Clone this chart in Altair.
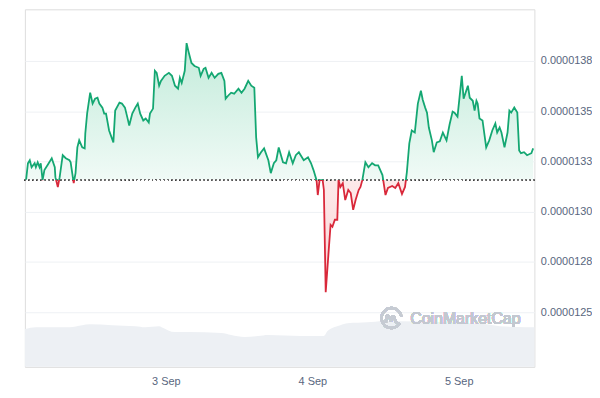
import altair as alt
import pandas as pd

# ---- data (hours since 2 Sep 00:00, price in USD) ----
hours = [1.1, 1.4, 1.7, 2.0, 2.5, 2.7, 3.0, 3.3, 3.5, 3.8, 4.1, 4.6, 5.3, 5.8, 5.9, 6.3, 6.6, 7.1, 7.6, 8.2,
         8.4, 8.9, 9.2, 9.5, 9.8, 10.3, 10.7, 10.8, 11.1, 11.6, 12.0, 12.4, 12.8, 13.1, 13.6, 13.9, 14.2, 14.7,
         15.4, 15.7, 16.4, 16.8, 17.3, 17.7, 18.0, 18.5, 19.0, 19.4, 19.8, 20.3, 20.7, 21.2, 21.4, 21.9, 22.2,
         22.5, 22.9, 23.2, 23.8, 24.5, 25.0, 25.5, 26.0, 26.3, 26.6, 27.1, 27.4, 27.7, 28.2, 28.7, 29.4, 29.7,
         30.2, 30.5, 31.0, 31.5, 32.0, 32.6, 33.1, 33.6, 33.8, 34.2, 34.7, 35.2, 35.9, 36.4, 36.9, 37.5, 38.0,
         38.5, 38.8, 39.1, 39.6, 40.1, 40.8, 41.2, 41.7, 42.1, 42.5, 43.2, 43.7, 44.2, 44.8, 45.3, 45.8, 46.1,
         46.6, 47.3, 47.8, 48.2, 48.7, 48.9, 49.2, 49.7, 49.9, 50.2, 50.7, 51.0, 51.3, 51.7, 52.1, 52.3, 52.6,
         53.0, 53.4, 53.9, 54.3, 54.7, 55.1, 55.6, 55.9, 56.2, 56.7, 57.2, 57.8, 58.3, 58.8, 59.5, 60.0, 60.4,
         61.1, 61.6, 62.1, 62.7, 63.2, 63.5, 63.9, 64.3, 64.8, 65.3, 65.8, 66.1, 66.5, 66.8, 67.1, 67.6, 67.9,
         68.4, 68.9, 69.4, 70.0, 70.5, 71.0, 71.3, 71.8, 72.5, 72.8, 73.5, 73.8, 74.3, 74.6, 74.9, 75.1, 75.4,
         75.9, 76.5, 77.0, 77.5, 78.0, 78.3, 78.7, 79.0, 79.5, 80.0, 80.3, 80.6, 81.1, 81.6, 81.9, 82.2, 82.7,
         83.2, 83.9, 84.2]

price = [13.160e-6, 13.241e-6, 13.256e-6, 13.221e-6, 13.241e-6, 13.221e-6, 13.246e-6, 13.221e-6, 13.241e-6,
         13.157e-6, 13.207e-6, 13.231e-6, 13.266e-6, 13.221e-6, 13.172e-6, 13.123e-6, 13.172e-6, 13.281e-6,
         13.266e-6, 13.256e-6, 13.246e-6, 13.142e-6, 13.192e-6, 13.320e-6, 13.355e-6, 13.320e-6, 13.315e-6,
         13.389e-6, 13.488e-6, 13.592e-6, 13.538e-6, 13.562e-6, 13.567e-6, 13.538e-6, 13.518e-6, 13.488e-6,
         13.488e-6, 13.404e-6, 13.345e-6, 13.503e-6, 13.543e-6, 13.538e-6, 13.518e-6, 13.468e-6, 13.429e-6,
         13.488e-6, 13.518e-6, 13.538e-6, 13.488e-6, 13.454e-6, 13.464e-6, 13.444e-6, 13.488e-6, 13.513e-6,
         13.701e-6, 13.691e-6, 13.627e-6, 13.651e-6, 13.676e-6, 13.691e-6, 13.676e-6, 13.627e-6, 13.612e-6,
         13.666e-6, 13.641e-6, 13.701e-6, 13.839e-6, 13.799e-6, 13.740e-6, 13.725e-6, 13.716e-6, 13.676e-6,
         13.711e-6, 13.716e-6, 13.666e-6, 13.691e-6, 13.666e-6, 13.686e-6, 13.691e-6, 13.651e-6, 13.562e-6,
         13.577e-6, 13.592e-6, 13.587e-6, 13.612e-6, 13.592e-6, 13.612e-6, 13.651e-6, 13.627e-6, 13.617e-6,
         13.370e-6, 13.271e-6, 13.296e-6, 13.315e-6, 13.256e-6, 13.192e-6, 13.241e-6, 13.256e-6, 13.320e-6,
         13.246e-6, 13.241e-6, 13.296e-6, 13.241e-6, 13.281e-6, 13.296e-6, 13.281e-6, 13.256e-6, 13.271e-6,
         13.241e-6, 13.207e-6, 13.157e-6, 13.083e-6, 13.157e-6, 13.157e-6, 13.108e-6, 12.599e-6, 12.811e-6,
         12.935e-6, 12.925e-6, 12.960e-6, 12.960e-6, 13.157e-6, 13.123e-6, 13.142e-6, 13.058e-6, 13.108e-6,
         13.093e-6, 13.009e-6, 13.058e-6, 13.108e-6, 13.123e-6, 13.157e-6, 13.246e-6, 13.221e-6, 13.241e-6,
         13.231e-6, 13.231e-6, 13.182e-6, 13.083e-6, 13.118e-6, 13.128e-6, 13.118e-6, 13.142e-6, 13.088e-6,
         13.123e-6, 13.197e-6, 13.340e-6, 13.404e-6, 13.394e-6, 13.538e-6, 13.602e-6, 13.557e-6, 13.518e-6,
         13.493e-6, 13.419e-6, 13.355e-6, 13.296e-6, 13.345e-6, 13.350e-6, 13.394e-6, 13.355e-6, 13.434e-6,
         13.498e-6, 13.493e-6, 13.473e-6, 13.676e-6, 13.562e-6, 13.627e-6, 13.567e-6, 13.552e-6, 13.503e-6,
         13.552e-6, 13.538e-6, 13.464e-6, 13.454e-6, 13.320e-6, 13.355e-6, 13.404e-6, 13.439e-6, 13.394e-6,
         13.419e-6, 13.394e-6, 13.320e-6, 13.394e-6, 13.503e-6, 13.493e-6, 13.518e-6, 13.493e-6, 13.305e-6,
         13.291e-6, 13.296e-6, 13.281e-6, 13.291e-6, 13.315e-6]

base_price = 13.16e-6

vol_hours = [0.9, 2.7, 8.2, 10.3, 11.5, 15.2, 19.0, 20.6, 22.9, 23.3, 25.5, 27.7, 33.1, 34.7, 36.9, 39.1,
             40.8, 46.1, 49.9, 50.5, 52.6, 53.8, 57.0, 59.6, 62.4, 76.6, 78.7, 83.1, 84.4]
volume_m = [3.8, 4.0, 4.0, 4.2, 4.3, 4.2, 4.1, 4.0, 4.1, 4.0, 3.5, 3.5, 3.4, 3.2, 3.0, 3.1, 3.2, 3.1, 3.1,
            3.6, 4.2, 4.4, 4.5, 4.6, 4.6, 4.3, 4.1, 4.0, 4.0]

y_ticks = [12.5e-6, 12.75e-6, 13.0e-6, 13.25e-6, 13.5e-6, 13.75e-6]
day_hours = [24, 48, 72]
day_labels = ["3 Sep", "4 Sep", "5 Sep"]

# ---- styling ----
GREEN = "#14a772"
RED = "#d9283a"
TXT = "#58667e"
GRID = "#eef1f4"
FONT = "Liberation Sans"

X_DOMAIN = [0.9, 84.4]
Y_DOMAIN = [12.228e-6, 14.007e-6]

df = pd.DataFrame({"h": hours, "price": price})
vdf = pd.DataFrame({"h": vol_hours, "vol": volume_m})

pmax, pmin = max(price), min(price)
f = (pmax - base_price) / (pmax - pmin)

line_grad = alt.LinearGradient(
    gradient="linear", x1=0, x2=0, y1=0, y2=1,
    stops=[alt.GradientStop(color=GREEN, offset=0), alt.GradientStop(color=GREEN, offset=f),
           alt.GradientStop(color=RED, offset=f), alt.GradientStop(color=RED, offset=1)])
fill_grad = alt.LinearGradient(
    gradient="linear", x1=0, x2=0, y1=0, y2=1,
    stops=[alt.GradientStop(color="#c2ebda", offset=0), alt.GradientStop(color="#f0faf6", offset=f),
           alt.GradientStop(color="#fdeaea", offset=f), alt.GradientStop(color="#f9d2d5", offset=1)])

label_expr = " : ".join(f"datum.value == {h} ? '{l}'" for h, l in zip(day_hours, day_labels)) + " : ''"

xscale = alt.Scale(domain=X_DOMAIN, nice=False, zero=False)
x_axis = alt.Axis(values=day_hours, labelExpr=label_expr, title=None, grid=False, domain=False,
                  ticks=False, labelPadding=9, labelFontSize=11, labelColor=TXT, labelFont=FONT)
x_enc = alt.X("h:Q", scale=xscale, axis=x_axis)

yscale = alt.Scale(domain=Y_DOMAIN, nice=False, zero=False)
y_axis = alt.Axis(orient="right", values=y_ticks, labelExpr="format(datum.value + 1e-11, '.7f')",
                  title=None, domain=False, ticks=False, labelPadding=6, labelFontSize=11,
                  labelColor=TXT, labelFont=FONT, grid=True, gridColor=GRID, gridWidth=1)

volume = alt.Chart(vdf).mark_area(color="#edf0f4", interpolate="monotone").encode(
    x=x_enc,
    y=alt.Y("vol:Q", scale=alt.Scale(domain=[0, 36], nice=False), axis=None),
)

area = alt.Chart(df).mark_area(fill=fill_grad).encode(
    x=x_enc,
    y=alt.Y("price:Q", scale=yscale, axis=y_axis),
    y2=alt.datum(base_price),
)

baseline = alt.Chart(df).mark_rule(color="#707070", strokeDash=[1, 3], strokeWidth=1).encode(
    y=alt.datum(base_price, scale=yscale),
)

line = alt.Chart(df).mark_line(stroke=line_grad, strokeWidth=1.8).encode(
    x=x_enc,
    y=alt.Y("price:Q", scale=yscale, axis=y_axis),
)

logo_path = ("M0.78,0.45 A0.9,0.9 0 1 1 0.9,-0.15 "
             "M-0.5,0.42 L-0.45,-0.15 Q-0.3,-0.4 -0.12,0.05 L-0.05,0.28 "
             "Q0.05,-0.35 0.25,-0.12 L0.38,0.3 Q0.5,0.5 0.78,0.45")
logo = alt.Chart(df).mark_point(shape=logo_path, filled=False, stroke="#c6cbd3", strokeWidth=2.4,
                                size=500).encode(x=alt.value(369), y=alt.value(311))
wm_text = alt.Chart(df).mark_text(text="CoinMarketCap", align="left", baseline="middle", fontSize=16,
                                  font=FONT, color="#c3c8d0").encode(
    x=alt.value(388), y=alt.value(312))

price_layer = alt.layer(area, baseline, line, logo, wm_text)

chart = alt.layer(volume, price_layer).resolve_scale(y="independent").properties(
    width=513, height=360, padding={"left": 14, "top": 0, "right": 0, "bottom": 5},
).configure_view(stroke="#eceff2").configure(background="white")

chart.save("out.html", embed_options={"renderer": "svg", "actions": False})
